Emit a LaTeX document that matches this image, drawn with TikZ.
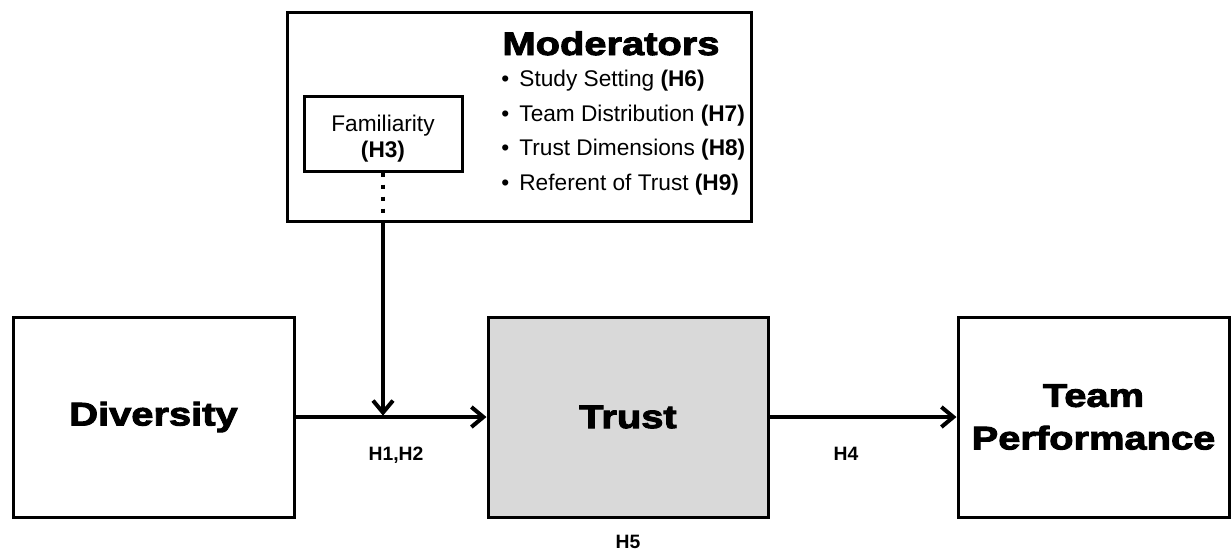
\documentclass[tikz,border=0pt]{standalone}
\usepackage{fontspec}
\setmainfont{Liberation Sans}
\newfontfamily\heavyfont[FakeBold=3,FakeStretch=1.22]{Liberation Sans Bold}
\usetikzlibrary{arrows.meta}
\begin{document}
\begin{tikzpicture}[x=0.75pt,y=-0.75pt,
  box/.style={draw,line width=2.25pt,inner sep=0pt},
  heavytxt/.style={font=\heavyfont\fontsize{24.5}{32}\selectfont,align=center},
  bodytxt/.style={font=\fontsize{17}{19.5}\selectfont,inner sep=0pt},
  lab/.style={font=\bfseries\fontsize{14.5}{17}\selectfont,inner sep=0pt,anchor=base},
  conn/.style={line width=3pt,-{Straight Barb[length=9pt,width=15pt]}},
  dotline/.style={line width=3pt,dash pattern=on 3pt off 6pt}]
\useasboundingbox (0,0) rectangle (1231,551);
% boxes
\node[box,minimum width={464*0.75pt},minimum height={209*0.75pt}] (mod) at (519,116.5) {};
\node[box,minimum width={158*0.75pt},minimum height={75*0.75pt}] (fam) at (383,133.5) {};
\node[bodytxt,align=center] (famt) at (383,139) {Familiarity\\\textbf{(H3)}};
\node[box,heavytxt,minimum width={281*0.75pt},minimum height={200*0.75pt}] (div) at (153.5,417) {Diversity};
\node[box,heavytxt,fill=black!15,minimum width={280*0.75pt},minimum height={200*0.75pt}] (trust) at (628,417) {Trust};
\node[box,heavytxt,minimum width={271*0.75pt},minimum height={200*0.75pt}] (perf) at (1093.5,417) {Team\\Performance};
% moderators text
\node[heavytxt,anchor=base,inner sep=0pt] (hd) at (611,55) {Moderators};
\node[bodytxt,anchor=base west] (b1) at (501,86) {\textbullet\hspace{0.45em}Study Setting \textbf{(H6)}};
\node[bodytxt,anchor=base west] (b2) at (501,121) {\textbullet\hspace{0.45em}Team Distribution \textbf{(H7)}};
\node[bodytxt,anchor=base west] (b3) at (501,155) {\textbullet\hspace{0.45em}Trust Dimensions \textbf{(H8)}};
\node[bodytxt,anchor=base west] (b4) at (501,190) {\textbullet\hspace{0.45em}Referent of Trust \textbf{(H9)}};
% connectors
\coordinate (mb) at (fam.south |- mod.south);
\coordinate (j) at (fam.south |- div.east);
\draw[dotline] (fam.south) -- (mb);
\draw[conn,shorten >=1pt] (mb) -- (j);
\draw[conn] (div.east) -- (trust.west);
\draw[conn] (trust.east) -- (perf.west);
% labels
\node[lab] (h12) at (396,460) {H1,H2};
\node[lab] (h4) at (846,460) {H4};
\node[lab] (h5) at (628,548) {H5};
\end{tikzpicture}
\end{document}
